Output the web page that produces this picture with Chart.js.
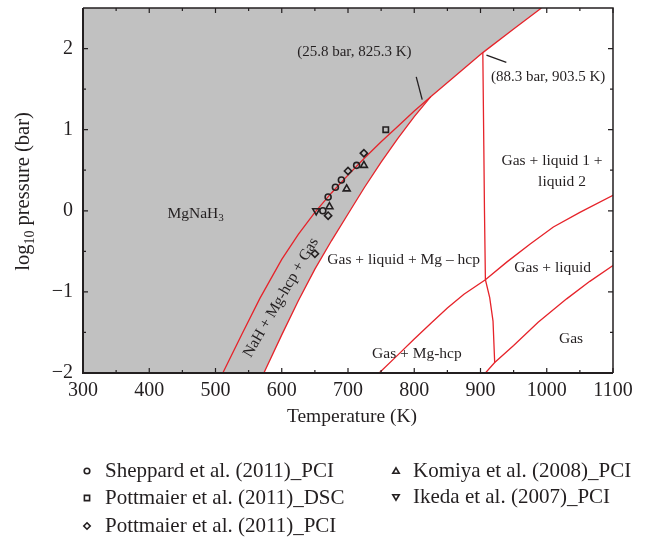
<!DOCTYPE html>
<html>
<head>
<meta charset="utf-8">
<title>MgNaH3 phase diagram</title>
<script src="https://cdn.jsdelivr.net/npm/chart.js@4.4.0/dist/chart.umd.min.js"></script>
<style>
  html, body { margin: 0; padding: 0; background: #fff; }
  #wrap { width: 649px; height: 537px; position: relative; }
</style>
</head>
<body>
<div id="wrap"><canvas id="phase"></canvas></div>
<script>
// tick labels
var xTicks = [300, 400, 500, 600, 700, 800, 900, 1000, 1100];
var yTicks = [-2, -1, 0, 1, 2];

// phase boundaries: [T (K), log10 p (bar)]
var upperBand = [[511,-2],[540,-1.52],[567,-1.08],[600,-0.6],[625,-0.29],[650,-0.02],[675,0.22],[700,0.44],[725,0.65],[750,0.85],[775,1.04],[800,1.23],[825.3,1.41]];
var lowerBand = [[573,-2],[600,-1.53],[625,-1.11],[650,-0.72],[675,-0.37],[700,-0.04],[725,0.29],[750,0.60],[775,0.89],[800,1.16],[825.3,1.41]];
var hydrideTop = [[825.3,1.41],[860,1.65],[903.5,1.95],[950,2.24],[992,2.5]];
var liquidSplit = [[903.5,1.95],[905,0.8],[906,0],[907.4,-0.85],[913.9,-1.07],[918.9,-1.36],[921.4,-1.87]];
var mgHcpLine = [[747,-2],[775,-1.78],[800,-1.58],[826,-1.38],[850,-1.2],[875,-1.03],[907.4,-0.85],[940,-0.63],[975,-0.41],[1010,-0.2],[1050,-0.02],[1100,0.19]];
var gasLine = [[907.4,-2],[921.4,-1.87],[950,-1.66],[987,-1.375],[1030,-1.086],[1065,-0.87],[1100,-0.675]];
var gasCorner = [[300,-2]];

// leader lines for the two annotated points
var leader1 = [[803,1.65],[812,1.37]];
var leader2 = [[909,1.92],[939,1.83]];

// experimental points
var sheppardPCI = [[662,0.0],[670,0.17],[681,0.29],[690,0.38],[713,0.56]];
var pottmaierDSC = [[757,1.0]];
var pottmaierPCI = [[650,-0.53],[670,-0.06],[700,0.49],[724,0.71]];
var komiyaPCI = [[672,0.05],[698,0.27],[724,0.56]];
var ikedaPCI = [[652,0.0]];
var seriesNames = ['Sheppard et al. (2011)_PCI', 'Pottmaier et al. (2011)_DSC', 'Pottmaier et al. (2011)_PCI',
                   'Komiya et al. (2008)_PCI', 'Ikeda et al. (2007)_PCI'];

var serif = "'Liberation Serif', 'Times New Roman', serif";
var ink = '#231f20';
var red = '#e6232a';

function toXY(arr) {
  return arr.map(function (p) { return { x: p[0], y: p[1] }; });
}

function boundary(arr) {
  return { data: toXY(arr), showLine: true, borderColor: red, borderWidth: 1.3,
           pointRadius: 0, fill: false, tension: 0, order: 5 };
}

function leader(arr) {
  return { data: toXY(arr), showLine: true, borderColor: ink, borderWidth: 1.3,
           pointRadius: 0, fill: false, order: 5 };
}

function marks(arr, style, r, rot) {
  return { data: toXY(arr), pointStyle: style, pointRadius: r, pointRotation: rot || 0,
           pointBorderColor: ink, pointBackgroundColor: 'rgba(0,0,0,0)', pointBorderWidth: 1.6,
           showLine: false, order: 1 };
}

// gray MgNaH3 region: everything above the lower band edge and the hydride line
var grayArea = {
  data: toXY(gasCorner.concat(lowerBand, hydrideTop.slice(1))),
  showLine: true, borderWidth: 0, borderColor: 'rgba(0,0,0,0)', pointRadius: 0,
  backgroundColor: '#c1c1c1', fill: 'end', tension: 0, order: 10
};

function drawPointShape(ctx, style, x, y, r) {
  ctx.beginPath();
  if (style === 'circle') {
    ctx.arc(x, y, r, 0, Math.PI * 2);
  } else if (style === 'rect') {
    ctx.rect(x - r, y - r, 2 * r, 2 * r);
  } else if (style === 'diamond') {
    ctx.moveTo(x, y - r); ctx.lineTo(x + r, y); ctx.lineTo(x, y + r); ctx.lineTo(x - r, y); ctx.closePath();
  } else if (style === 'up') {
    ctx.moveTo(x, y - r); ctx.lineTo(x + r, y + r * 0.7); ctx.lineTo(x - r, y + r * 0.7); ctx.closePath();
  } else {
    ctx.moveTo(x, y + r); ctx.lineTo(x + r, y - r * 0.7); ctx.lineTo(x - r, y - r * 0.7); ctx.closePath();
  }
  ctx.stroke();
}

var decorPlugin = {
  id: 'decor',
  afterDatasetsDraw: function (chart) {
    var ctx = chart.ctx, a = chart.chartArea, xs = chart.scales.x, ys = chart.scales.y;
    ctx.save();
    ctx.strokeStyle = ink;
    ctx.fillStyle = ink;

    // inward ticks on all four sides
    ctx.lineWidth = 1.2;
    ctx.beginPath();
    for (var t = 300; t <= 1100; t += 50) {
      var px = xs.getPixelForValue(t), len = (t % 100 === 0) ? 5 : 3;
      ctx.moveTo(px, a.bottom); ctx.lineTo(px, a.bottom - len);
      ctx.moveTo(px, a.top); ctx.lineTo(px, a.top + len);
    }
    for (var v = -2; v < 2.5; v += 0.5) {
      var py = ys.getPixelForValue(v), l2 = (v % 1 === 0) ? 5 : 3;
      ctx.moveTo(a.left, py); ctx.lineTo(a.left + l2, py);
      ctx.moveTo(a.right, py); ctx.lineTo(a.right - l2, py);
    }
    ctx.stroke();

    // frame
    ctx.lineWidth = 1.5;
    ctx.beginPath();
    ctx.moveTo(a.left, a.top); ctx.lineTo(a.right, a.top); ctx.lineTo(a.right, a.bottom);
    ctx.stroke();
    ctx.lineWidth = 2;
    ctx.beginPath();
    ctx.moveTo(a.left, a.top); ctx.lineTo(a.left, a.bottom); ctx.lineTo(a.right, a.bottom);
    ctx.stroke();

    // region labels and annotations
    function label(text, T, p, size, angle) {
      ctx.save();
      ctx.translate(xs.getPixelForValue(T), ys.getPixelForValue(p));
      if (angle) ctx.rotate(angle * Math.PI / 180);
      ctx.font = size + 'px ' + serif;
      ctx.textAlign = 'center';
      ctx.textBaseline = 'middle';
      ctx.fillText(text, 0, 0);
      ctx.restore();
    }
    label('(25.8 bar, 825.3 K)', 709.6, 1.96, 15);
    label('(88.3 bar, 903.5 K)', 1002, 1.65, 15);
    label('Gas + liquid + Mg \u2013 hcp', 784, -0.61, 15.5);
    label('Gas + liquid 1 +', 1008, 0.62, 15.5);
    label('liquid 2', 1023, 0.35, 15.5);
    label('Gas + liquid', 1009, -0.70, 15.5);
    label('Gas', 1036.6, -1.58, 15.5);
    label('Gas + Mg-hcp', 804, -1.76, 15.5);
    label('NaH + Mg-hcp + Gas', 599, -1.07, 15.5, -60);

    // MgNaH3 with subscript
    ctx.font = '15.5px ' + serif;
    var w1 = ctx.measureText('MgNaH').width;
    ctx.font = '11px ' + serif;
    var w2 = ctx.measureText('3').width;
    var cx = xs.getPixelForValue(470), cy = ys.getPixelForValue(-0.03);
    var sx = cx - (w1 + w2) / 2;
    ctx.textAlign = 'left';
    ctx.textBaseline = 'alphabetic';
    ctx.font = '15.5px ' + serif;
    ctx.fillText('MgNaH', sx, cy + 5);
    ctx.font = '11px ' + serif;
    ctx.fillText('3', sx + w1, cy + 8);

    // axis titles
    ctx.font = '19.5px ' + serif;
    ctx.textAlign = 'center';
    ctx.textBaseline = 'middle';
    ctx.fillText('Temperature (K)', (a.left + a.right) / 2 + 4, 417);

    ctx.save();
    ctx.translate(29, 191.5);
    ctx.rotate(-Math.PI / 2);
    ctx.textAlign = 'left';
    ctx.textBaseline = 'alphabetic';
    ctx.font = '20.5px ' + serif;
    var wa = ctx.measureText('log').width;
    var wc = ctx.measureText(' pressure (bar)').width;
    ctx.font = '14px ' + serif;
    var wb = ctx.measureText('10').width;
    var s0 = -(wa + wb + wc) / 2;
    ctx.font = '20.5px ' + serif;
    ctx.fillText('log', s0, 0);
    ctx.font = '14px ' + serif;
    ctx.fillText('10', s0 + wa, 4.5);
    ctx.font = '20.5px ' + serif;
    ctx.fillText(' pressure (bar)', s0 + wa + wb, 0);
    ctx.restore();

    // legend
    var entries = [
      { s: 'circle', r: 2.8, x: 87, y: 471 },
      { s: 'rect', r: 2.6, x: 87, y: 498 },
      { s: 'diamond', r: 3.2, x: 87, y: 526 },
      { s: 'up', r: 3.2, x: 396, y: 471 },
      { s: 'down', r: 3.2, x: 396, y: 497 }
    ];
    ctx.font = '21px ' + serif;
    ctx.textAlign = 'left';
    ctx.textBaseline = 'middle';
    ctx.lineWidth = 1.6;
    entries.forEach(function (e, i) {
      drawPointShape(ctx, e.s, e.x, e.y, e.r);
      ctx.fillText(seriesNames[i], e.x + (i < 3 ? 18 : 17), e.y);
    });
    ctx.restore();
  }
};

var datasets = [
  grayArea,
  boundary(upperBand),
  boundary(lowerBand),
  boundary(hydrideTop),
  boundary(liquidSplit),
  boundary(mgHcpLine),
  boundary(gasLine),
  leader(leader1),
  leader(leader2),
  marks(sheppardPCI, 'circle', 3),
  marks(pottmaierDSC, 'rect', 3.8),
  marks(pottmaierPCI, 'rectRot', 3.6),
  marks(komiyaPCI, 'triangle', 4),
  marks(ikedaPCI, 'triangle', 4, 180)
];

new Chart(document.getElementById('phase'), {
  type: 'scatter',
  data: { datasets: datasets },
  options: {
    responsive: true,
    maintainAspectRatio: false,
    animation: false,
    devicePixelRatio: 1,
    layout: { padding: { left: 0, right: 36, top: 8, bottom: 0 } },
    plugins: { legend: { display: false }, tooltip: { enabled: false } },
    scales: {
      x: {
        type: 'linear', min: 300, max: 1100,
        grid: { display: false, drawTicks: false },
        border: { display: false },
        afterBuildTicks: function (s) { s.ticks = xTicks.map(function (v) { return { value: v }; }); },
        afterFit: function (s) { s.height = 164; s.paddingLeft = 0; s.paddingRight = 0; },
        ticks: {
          padding: 6, color: ink, font: { family: serif, size: 20 }, maxRotation: 0,
          callback: function (v) { return String(v); }
        }
      },
      y: {
        type: 'linear', min: -2, max: 2.5,
        grid: { display: false, drawTicks: false },
        border: { display: false },
        afterBuildTicks: function (s) { s.ticks = yTicks.map(function (v) { return { value: v }; }); },
        afterFit: function (s) { s.width = 83; s.paddingTop = 0; s.paddingBottom = 0; },
        ticks: {
          padding: 10, color: ink, font: { family: serif, size: 20 },
          callback: function (v) { return v < 0 ? '\u2212' + Math.abs(v) : String(v); }
        }
      }
    }
  },
  plugins: [decorPlugin]
});
</script>
</body>
</html>
